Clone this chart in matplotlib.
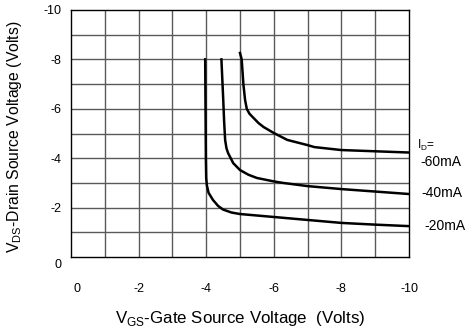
import matplotlib
matplotlib.use("Agg")
import matplotlib.pyplot as plt
import matplotlib.transforms as mtransforms

plt.rcParams['font.family'] = ['Liberation Sans', 'DejaVu Sans']
plt.rcParams['mathtext.fontset'] = 'custom'
plt.rcParams['mathtext.rm'] = 'Liberation Sans'

# Data (VGS in volts, VDS in volts)
vgs_20 = [-3.97, -3.98, -3.99, -4.0, -4.02, -4.07, -4.2, -4.35, -4.5, -4.75, -5.0, -5.5, -6.0, -7.0, -8.0, -9.0, -10.0]
vds_20 = [-8.0, -6.0, -4.0, -3.2, -2.9, -2.6, -2.31, -2.07, -1.92, -1.8, -1.74, -1.68, -1.62, -1.5, -1.38, -1.31, -1.25]

vgs_40 = [-4.45, -4.5, -4.53, -4.56, -4.6, -4.65, -4.8, -5.0, -5.25, -5.5, -6.0, -6.27, -7.0, -8.0, -9.0, -10.0]
vds_40 = [-8.0, -6.5, -5.5, -4.74, -4.4, -4.2, -3.8, -3.52, -3.33, -3.2, -3.06, -3.0, -2.87, -2.75, -2.65, -2.55]

vgs_60 = [-5.0, -5.05, -5.1, -5.15, -5.2, -5.28, -5.4, -5.55, -5.7, -6.0, -6.4, -7.0, -7.2, -8.0, -9.0, -10.0]
vds_60 = [-8.26, -8.0, -7.0, -6.36, -6.0, -5.8, -5.63, -5.42, -5.26, -5.02, -4.74, -4.53, -4.45, -4.33, -4.28, -4.23]

curve_labels = ["-20mA", "-40mA", "-60mA"]
x_ticks = [0, -2, -4, -6, -8, -10]
y_ticks = [0, -2, -4, -6, -8, -10]

W, H = 466, 329
fig = plt.figure(figsize=(W / 100, H / 100), dpi=100)
ax = fig.add_axes([71 / W, 1 - 257 / H, 338 / W, 247 / H])

ax.set_xlim(0, -10)
ax.set_ylim(0, -10)

for v in range(-9, 0):
    ax.axvline(v, color='#5a5a5a', lw=1.0, zorder=1)
    ax.axhline(v, color='#5a5a5a', lw=1.0, zorder=1)

for xs, ys in [(vgs_20, vds_20), (vgs_40, vds_40), (vgs_60, vds_60)]:
    ax.plot(xs, ys, color='black', lw=1.8, zorder=3, solid_joinstyle='round')

ax.set_xticks(x_ticks)
ax.set_xticklabels([str(t) for t in x_ticks])
ax.set_yticks(y_ticks)
ax.set_yticklabels([str(t) for t in y_ticks])
ax.tick_params(length=0, labelsize=9)
ax.tick_params(axis='x', pad=19)
ax.tick_params(axis='y', pad=7)
for s in ax.spines.values():
    s.set_color('black')
    s.set_linewidth(1.0)

# the "0" labels sit slightly off in the reference
xl0 = ax.get_xticklabels()[0]
xl0.set_transform(xl0.get_transform() + mtransforms.ScaledTranslation(6 / 100, 0, fig.dpi_scale_trans))
yl0 = ax.get_yticklabels()[0]
yl0.set_transform(yl0.get_transform() + mtransforms.ScaledTranslation(0, -7 / 100, fig.dpi_scale_trans))

fig.text(240 / W, 1 - 318 / H, r"V$_{\mathregular{GS}}$-Gate Source Voltage  (Volts)",
         fontsize=12.2, ha='center', va='center')
fig.text(15 / W, 1 - 137 / H, r"V$_{\mathregular{DS}}$-Drain Source Voltage (Volts)",
         fontsize=11.3, ha='center', va='center', rotation=90)

# Curve labels on right
fig.text(417 / W, 1 - 145 / H, r"I$_{\mathregular{D}}$=", fontsize=8.5, va='center', ha='left')
fig.text(420 / W, 1 - 162 / H, curve_labels[2], fontsize=10, va='center', ha='left')
fig.text(421 / W, 1 - 193 / H, curve_labels[1], fontsize=10, va='center', ha='left')
fig.text(424 / W, 1 - 226 / H, curve_labels[0], fontsize=10, va='center', ha='left')

fig.savefig("out.png", dpi=100)
